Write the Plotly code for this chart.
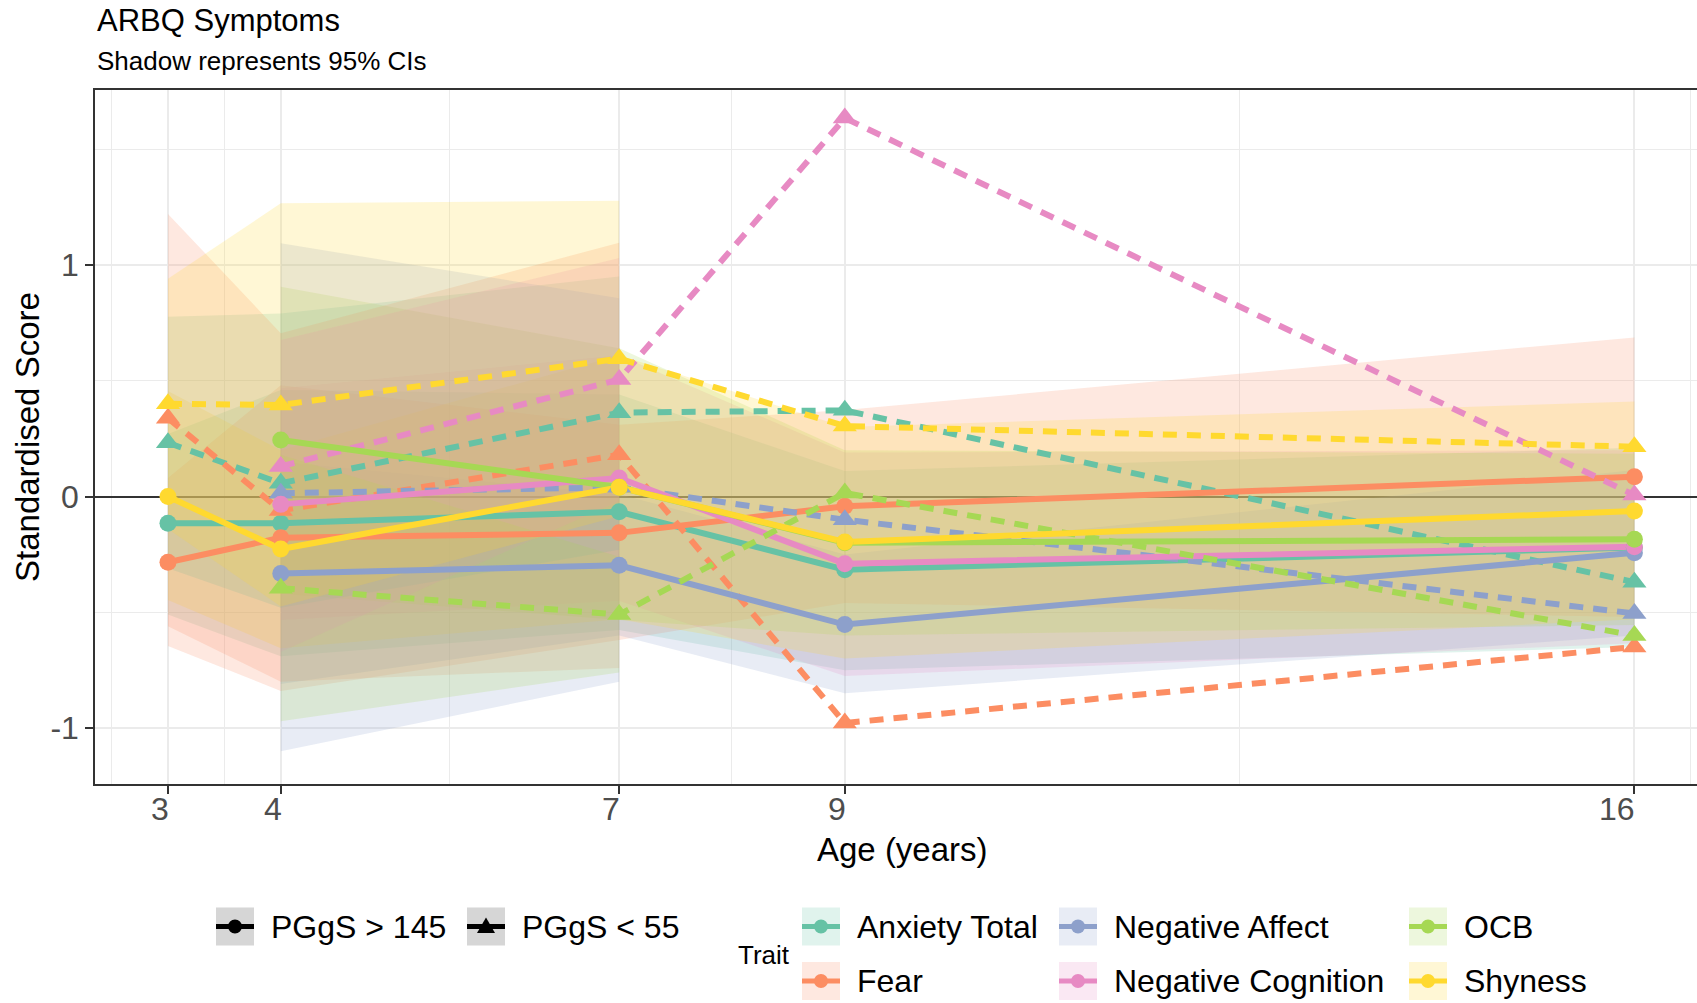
import plotly.graph_objects as go

# ---------------- data ----------------
TRAITS = ["Anxiety Total", "Fear", "Negative Affect", "Negative Cognition", "OCB", "Shyness"]
COLORS = {"Anxiety Total": "#66C2A5", "Fear": "#FC8D62", "Negative Affect": "#8DA0CB",
          "Negative Cognition": "#E78AC3", "OCB": "#A6D854", "Shyness": "#FFD92F"}
GROUPS = ["PGgS > 145", "PGgS < 55"]
X_TICKS = [3, 4, 7, 9, 16]
Y_TICKS = [-1, 0, 1]

# PGgS > 145 (solid, circles)
hi_ages = {"Anxiety Total": [3, 4, 7, 9, 16], "Fear": [3, 4, 7, 9, 16],
           "Negative Affect": [4, 7, 9, 16], "Negative Cognition": [4, 7, 9, 16],
           "OCB": [4, 7, 9, 16], "Shyness": [3, 4, 7, 9, 16]}
hi_mean = {"Anxiety Total": [-0.116, -0.116, -0.066, -0.316, -0.22],
           "Fear": [-0.284, -0.178, -0.157, -0.042, 0.085],
           "Negative Affect": [-0.332, -0.297, -0.553, -0.243],
           "Negative Cognition": [-0.034, 0.08, -0.29, -0.217],
           "OCB": [0.244, 0.04, -0.2, -0.185],
           "Shyness": [0.0, -0.227, 0.04, -0.196, -0.063]}
hi_lower = {"Anxiety Total": [-0.51, -0.69, -0.576, -0.75, -0.65],
            "Fear": [-0.645, -0.84, -0.62, -0.46, -0.52],
            "Negative Affect": [-0.81, -0.60, -0.85, -0.60],
            "Negative Cognition": [-0.533, -0.45, -0.775, -0.634],
            "OCB": [-0.42, -0.533, -0.6, -0.555],
            "Shyness": [-0.447, -0.655, -0.53, -0.70, -0.53]}
hi_upper = {"Anxiety Total": [0.27, 0.46, 0.44, 0.11, 0.21],
            "Fear": [0.08, 0.48, 0.31, 0.373, 0.687],
            "Negative Affect": [0.15, 0.01, -0.25, 0.114],
            "Negative Cognition": [0.467, 0.61, 0.19, 0.2],
            "OCB": [0.906, 0.64, 0.2, 0.185],
            "Shyness": [0.455, 0.2, 0.61, 0.30, 0.41]}

# PGgS < 55 (dashed, triangles); CIs only available up to age 7
lo_ages = {"Anxiety Total": [3, 4, 7, 9, 16], "Fear": [3, 4, 7, 9, 16],
           "Negative Affect": [4, 7, 9, 16], "Negative Cognition": [4, 7, 9, 16],
           "OCB": [4, 7, 9, 16], "Shyness": [3, 4, 7, 9, 16]}
lo_mean = {"Anxiety Total": [0.232, 0.057, 0.362, 0.372, -0.37],
           "Fear": [0.338, -0.06, 0.18, -0.978, -0.65],
           "Negative Affect": [0.014, 0.04, -0.10, -0.505],
           "Negative Cognition": [0.13, 0.505, 1.634, 0.006],
           "OCB": [-0.396, -0.51, 0.015, -0.60],
           "Shyness": [0.40, 0.395, 0.595, 0.304, 0.215]}
lo_ci_ages = {"Anxiety Total": [3, 4, 7], "Fear": [3, 4, 7], "Negative Affect": [4, 7],
              "Negative Cognition": [4, 7], "OCB": [4, 7], "Shyness": [3, 4, 7]}
lo_lower = {"Anxiety Total": [-0.31, -0.48, -0.23], "Fear": [-0.56, -0.80, -0.74],
            "Negative Affect": [-1.10, -0.80], "Negative Cognition": [-0.67, -0.02],
            "OCB": [-0.97, -0.76], "Shyness": [-0.14, -0.475, -0.085]}
lo_upper = {"Anxiety Total": [0.776, 0.79, 0.95], "Fear": [1.22, 0.705, 1.096],
            "Negative Affect": [1.093, 0.856], "Negative Cognition": [0.676, 1.03],
            "OCB": [0.18, -0.26], "Shyness": [0.94, 1.266, 1.277]}

# ---------------- layout geometry ----------------
W, H = 1697, 1003
PL, PR, PT, PB = 95, 1697, 90, 784
FONT = "Liberation Sans, Arial, Helvetica, sans-serif"
DASH = "14px,10px"
LW = 6


def rgba(hexc, a):
    h = hexc.lstrip("#")
    r, g, b = int(h[0:2], 16), int(h[2:4], 16), int(h[4:6], 16)
    return f"rgba({r},{g},{b},{a})"


def fx(p):
    return (p - PL) / (PR - PL)


def fy(p):
    return (PB - p) / (PB - PT)


fig = go.Figure()

# ribbons
for t in TRAITS:
    a = hi_ages[t]
    fig.add_trace(go.Scatter(x=a + a[::-1], y=hi_upper[t] + hi_lower[t][::-1], fill="toself",
                             fillcolor=rgba(COLORS[t], 0.2), line=dict(width=0), mode="lines",
                             hoverinfo="skip", showlegend=False))
for t in TRAITS:
    a = lo_ci_ages[t]
    fig.add_trace(go.Scatter(x=a + a[::-1], y=lo_upper[t] + lo_lower[t][::-1], fill="toself",
                             fillcolor=rgba(COLORS[t], 0.2), line=dict(width=0), mode="lines",
                             hoverinfo="skip", showlegend=False))

# lines
for t in TRAITS:
    fig.add_trace(go.Scatter(x=hi_ages[t], y=hi_mean[t], mode="lines",
                             line=dict(color=COLORS[t], width=LW), showlegend=False,
                             name=f"{t} – {GROUPS[0]}"))
    fig.add_trace(go.Scatter(x=lo_ages[t], y=lo_mean[t], mode="lines",
                             line=dict(color=COLORS[t], width=LW, dash=DASH), showlegend=False,
                             name=f"{t} – {GROUPS[1]}"))
# points
for t in TRAITS:
    fig.add_trace(go.Scatter(x=hi_ages[t], y=hi_mean[t], mode="markers",
                             marker=dict(color=COLORS[t], size=17, symbol="circle", line=dict(width=0)),
                             showlegend=False, name=f"{t} – {GROUPS[0]}"))
    fig.add_trace(go.Scatter(x=lo_ages[t], y=lo_mean[t], mode="markers",
                             marker=dict(color=COLORS[t], size=21, symbol="triangle-up", line=dict(width=0)),
                             showlegend=False, name=f"{t} – {GROUPS[1]}"))

# ---------------- annotations ----------------
ann = []
ann.append(dict(text="ARBQ Symptoms", x=fx(95), y=fy(40), xref="paper", yref="paper",
                xanchor="left", yanchor="bottom", showarrow=False,
                font=dict(family=FONT, size=31, color="black")))
ann.append(dict(text="Shadow represents 95% CIs", x=fx(95), y=fy(78), xref="paper", yref="paper",
                xanchor="left", yanchor="bottom", showarrow=False,
                font=dict(family=FONT, size=26, color="black")))
for v in X_TICKS:
    ann.append(dict(text=str(v), x=v, xref="x", y=fy(809), yref="paper", xanchor="right",
                    yanchor="middle", showarrow=False, xshift=3,
                    font=dict(family=FONT, size=32, color="#4D4D4D")))
ann.append(dict(text="Age (years)", x=fx(902), y=fy(849), xref="paper", yref="paper",
                xanchor="center", yanchor="middle", showarrow=False,
                font=dict(family=FONT, size=33, color="black")))
ann.append(dict(text="Standardised Score", x=fx(27), y=fy(437), xref="paper", yref="paper",
                xanchor="center", yanchor="middle", textangle=-90, showarrow=False,
                font=dict(family=FONT, size=33, color="black")))

# ---------------- custom legend ----------------
shapes = []
KEY = 38


def key_box(x0, yc, fill, lcolor):
    shapes.append(dict(type="rect", xref="paper", yref="paper", x0=fx(x0), x1=fx(x0 + KEY),
                       y0=fy(yc + KEY / 2), y1=fy(yc - KEY / 2), fillcolor=fill, line=dict(width=0),
                       layer="above"))
    shapes.append(dict(type="line", xref="paper", yref="paper", x0=fx(x0), x1=fx(x0 + KEY),
                       y0=fy(yc), y1=fy(yc), line=dict(color=lcolor, width=5), layer="above"))


def key_circle(xc, yc, color, d=14):
    shapes.append(dict(type="circle", xref="paper", yref="paper", x0=fx(xc - d / 2), x1=fx(xc + d / 2),
                       y0=fy(yc + d / 2), y1=fy(yc - d / 2), fillcolor=color, line=dict(width=0),
                       layer="above"))


def key_triangle(xc, yc, color):
    pts = [(xc - 9, yc + 6.5), (xc + 9, yc + 6.5), (xc, yc - 9)]
    path = "M " + " L ".join(f"{fx(a):.6f},{fy(b):.6f}" for a, b in pts) + " Z"
    shapes.append(dict(type="path", xref="paper", yref="paper", path=path, fillcolor=color,
                       line=dict(width=0), layer="above"))


ROW1, ROW2 = 926.5, 981
# group legend
for x0, label, kind in [(216, GROUPS[0], "c"), (467, GROUPS[1], "t")]:
    key_box(x0, ROW1, "#D6D6D6", "black")
    if kind == "c":
        key_circle(x0 + KEY / 2, ROW1, "black")
    else:
        key_triangle(x0 + KEY / 2, ROW1, "black")
    ann.append(dict(text=label, x=fx(x0 + KEY + 15), y=fy(ROW1), xref="paper", yref="paper",
                    xanchor="left", yanchor="middle", showarrow=False,
                    font=dict(family=FONT, size=32, color="black")))

ann.append(dict(text="Trait", x=fx(736), y=fy(955), xref="paper", yref="paper",
                xanchor="left", yanchor="middle", showarrow=False,
                font=dict(family=FONT, size=26, color="black")))
trait_pos = {"Anxiety Total": (802, ROW1), "Negative Affect": (1059, ROW1), "OCB": (1409, ROW1),
             "Fear": (802, ROW2), "Negative Cognition": (1059, ROW2), "Shyness": (1409, ROW2)}
for t in TRAITS:
    x0, yc = trait_pos[t]
    key_box(x0, yc, rgba(COLORS[t], 0.2), COLORS[t])
    key_circle(x0 + KEY / 2, yc, COLORS[t])
    ann.append(dict(text=t, x=fx(x0 + KEY + 15), y=fy(yc), xref="paper", yref="paper",
                    xanchor="left", yanchor="middle", showarrow=False,
                    font=dict(family=FONT, size=32, color="black")))

fig.update_layout(
    width=W, height=H,
    margin=dict(l=PL, r=W - PR, t=PT, b=H - PB, autoexpand=False),
    paper_bgcolor="white", plot_bgcolor="white",
    showlegend=False,
    annotations=ann, shapes=shapes,
    font=dict(family=FONT),
    xaxis=dict(range=[2.353, 16.555], tickvals=X_TICKS, showticklabels=False,
               ticks="outside", ticklen=8, tickwidth=1.5, tickcolor="#333333",
               showgrid=True, gridcolor="#EBEBEB", gridwidth=2,
               showline=True, linecolor="#333333", linewidth=1.5, mirror=True, zeroline=False,
               minor=dict(tickvals=[2.5, 3.5, 5.5, 8, 12.5, 16.5], showgrid=True,
                          gridcolor="#EBEBEB", gridwidth=1, ticks="")),
    yaxis=dict(range=[-1.2414, 1.7552], tickvals=Y_TICKS, ticktext=[str(v) for v in Y_TICKS],
               tickfont=dict(family=FONT, size=32, color="#4D4D4D"),
               ticks="outside", ticklen=8, tickwidth=1.5, tickcolor="#333333",
               showgrid=True, gridcolor="#EBEBEB", gridwidth=2,
               showline=True, linecolor="#333333", linewidth=1.5, mirror=False,
               zeroline=True, zerolinecolor="#333333", zerolinewidth=1.5,
               minor=dict(tickvals=[-1.5, -0.5, 0.5, 1.5], showgrid=True,
                          gridcolor="#EBEBEB", gridwidth=1, ticks="")),
)

fig.write_html("out.html")
